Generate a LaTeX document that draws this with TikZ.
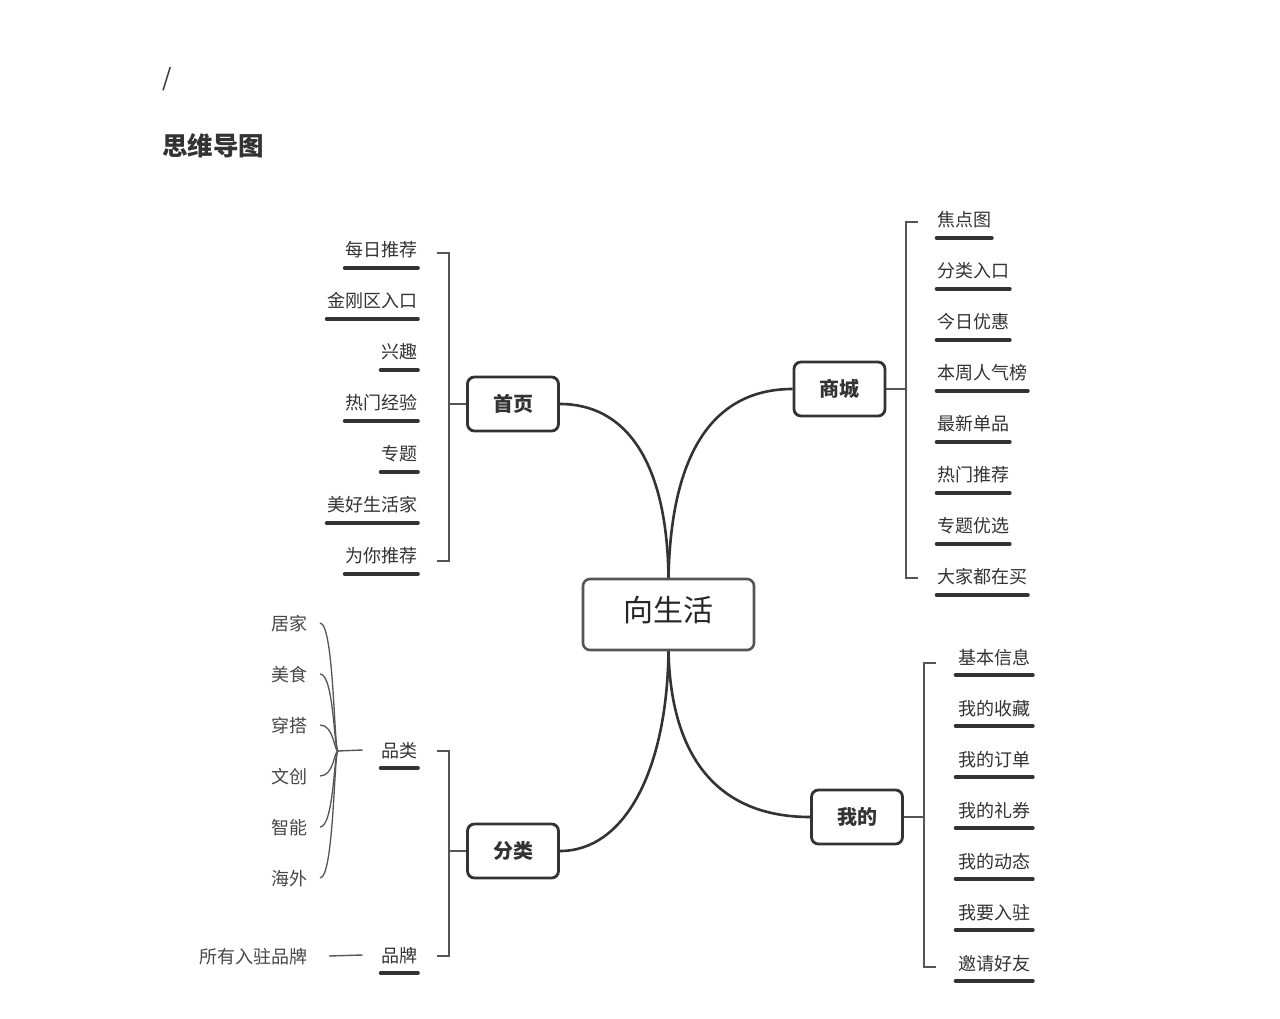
\documentclass[tikz,border=0pt]{standalone}
\usepackage{fontspec}
\setmainfont{Noto Sans CJK SC}
\definecolor{dark}{HTML}{333333}
\definecolor{mid}{HTML}{555555}
\definecolor{txt}{HTML}{333333}
\begin{document}
\begin{tikzpicture}[x=1pt,y=-1pt,
  leaf/.style={font=\fontsize{18}{18}\selectfont, text=txt, inner xsep=1.5pt, inner ysep=0pt, text height=1.5em, text depth=0.06em},
  sub/.style={font=\fontsize{18}{18}\selectfont, text=txt!90!white, inner sep=0pt, text height=1.5em, text depth=0.06em},
  uline/.style={line width=3.6pt, draw=dark, line cap=round},
  topic/.style={draw=dark, line width=2.8pt, rounded corners=7pt, fill=white, minimum width=91pt, minimum height=54pt, font=\bfseries\fontsize{20}{20}\selectfont, text=dark, inner sep=0pt},
  central/.style={draw=mid, line width=2.6pt, rounded corners=7pt, fill=white, minimum width=171pt, minimum height=71pt, inner sep=0pt},
  main/.style={draw=dark, line width=2.6pt},
  thin/.style={draw=mid, line width=1.4pt},
  brace/.style={draw=mid, line width=1.3pt}]
\useasboundingbox[fill=white] (0,0) rectangle (1280,1019);

% header
\node[anchor=west, font=\fontsize{24}{24}\selectfont, text=dark, inner sep=0pt] (slash) at (162,79) {/};
\node[anchor=west, font=\bfseries\fontsize{25.5}{25.5}\selectfont, text=dark, inner sep=0pt, text height=1.7em, text depth=0.06em] (title) at (162,147) {思维导图};

% topics
\node[central, label={[font=\fontsize{30}{30}\selectfont, text=black!85, yshift=4pt]center:向生活}] (c) at (668.5,614.5) {};
\node[topic] (hp) at (513,404) {首页};
\node[topic] (sc) at (839.5,389) {商城};
\node[topic] (fl) at (513,851) {分类};
\node[topic] (wd) at (857,817) {我的};

% main curves
\draw[main] (hp.east) .. controls (625,404) and (667,460) .. (c.north);
\draw[main] (sc.west) .. controls (715,389) and (671,450) .. (c.north);
\draw[main] (fl.east) .. controls (625,851) and (667,770) .. (c.south);
\draw[main] (wd.west) .. controls (720,817) and (671,760) .. (c.south);

% 首页 leaves
\foreach \n/\y/\t in {h1/249/每日推荐, h2/300/金刚区入口, h3/351/兴趣, h4/402/热门经验, h5/453/专题, h6/504/美好生活家, h7/555/为你推荐}{
  \node[leaf, anchor=east] (\n) at (419,\y) {\t};
  \draw[uline] ([xshift=1pt,yshift=-19pt]\n.west) -- ([xshift=-1pt,yshift=-19pt]\n.east);
}
\coordinate (hb) at (449,404);
\coordinate (hbt) at (449,253);
\coordinate (hbb) at (449,561);
\draw[thin] (hp.west) -- (hb);
\draw[thin] ([xshift=-12pt]hbt) -- (hbt) -- (hbb) -- ([xshift=-12pt]hbb);

% 商城 leaves
\foreach \n/\y/\t in {s1/219/焦点图, s2/270/分类入口, s3/321/今日优惠, s4/372/本周人气榜, s5/423/最新单品, s6/474/热门推荐, s7/525/专题优选, s8/576/大家都在买}{
  \node[leaf, anchor=west] (\n) at (935.5,\y) {\t};
  \draw[uline] ([xshift=1pt,yshift=-19pt]\n.west) -- ([xshift=-1pt,yshift=-19pt]\n.east);
}
\coordinate (sb) at (906,389);
\coordinate (sbt) at (906,222);
\coordinate (sbb) at (906,578);
\draw[thin] (sc.east) -- (sb);
\draw[thin] ([xshift=12pt]sbt) -- (sbt) -- (sbb) -- ([xshift=12pt]sbb);

% 我的 leaves
\foreach \n/\y/\t in {w1/657/基本信息, w2/708/我的收藏, w3/759/我的订单, w4/810/我的礼券, w5/861/我的动态, w6/912/我要入驻, w7/963/邀请好友}{
  \node[leaf, anchor=west, inner xsep=3.5pt] (\n) at (954.5,\y) {\t};
  \draw[uline] ([xshift=1pt,yshift=-18pt]\n.west) -- ([xshift=-1pt,yshift=-18pt]\n.east);
}
\coordinate (wb) at (924,817);
\coordinate (wbt) at (924,663);
\coordinate (wbb) at (924,967);
\draw[thin] (wd.east) -- (wb);
\draw[thin] ([xshift=12pt]wbt) -- (wbt) -- (wbb) -- ([xshift=12pt]wbb);

% 分类 leaves
\node[leaf, anchor=east] (pl) at (419,750) {品类};
\draw[uline] ([xshift=1pt,yshift=-18pt]pl.west) -- ([xshift=-1pt,yshift=-18pt]pl.east);
\node[leaf, anchor=east] (pp) at (419,955) {品牌};
\draw[uline] ([xshift=1pt,yshift=-18pt]pp.west) -- ([xshift=-1pt,yshift=-18pt]pp.east);
\coordinate (fb) at (449,851);
\coordinate (fbt) at (449,751);
\coordinate (fbb) at (449,956);
\draw[thin] (fl.west) -- (fb);
\draw[thin] ([xshift=-12pt]fbt) -- (fbt) -- (fbb) -- ([xshift=-12pt]fbb);

% 品类 children
\coordinate (bp) at (338,751);
\draw[thin] (bp) -- ([xshift=-17pt]pl.west);
\foreach \n/\y/\t in {p1/623/居家, p2/674/美食, p3/725/穿搭, p4/776/文创, p5/827/智能, p6/878/海外}{
  \node[sub, anchor=east] (\n) at (308,\y) {\t};
  \draw[brace] ([xshift=12pt]\n.east) .. controls (334,\y) and (334,751) .. (bp);
}

% 品牌 child
\node[sub, anchor=east] (pa) at (308,956) {所有入驻品牌};
\draw[thin] ([xshift=21pt]pa.east) -- ([xshift=-17pt]pp.west);
\end{tikzpicture}
\end{document}
